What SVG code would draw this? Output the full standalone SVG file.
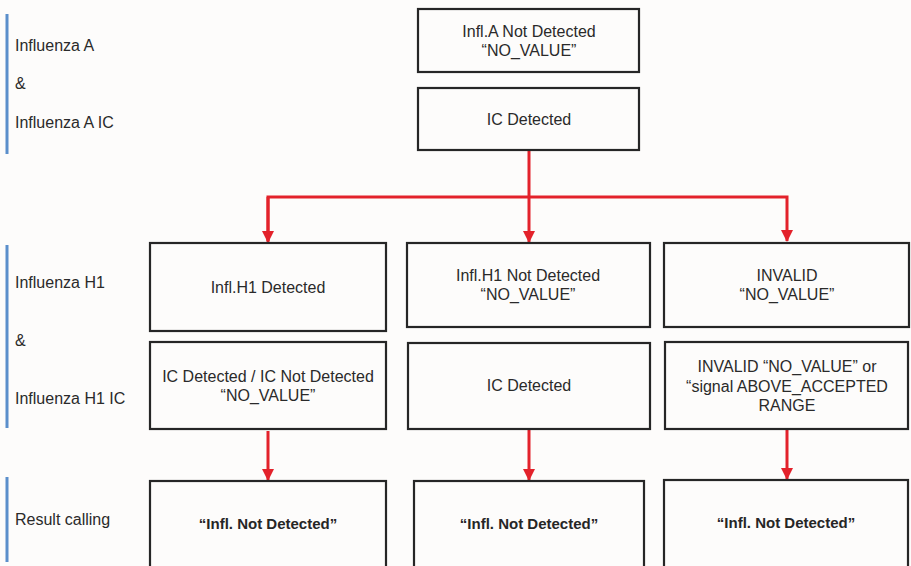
<svg xmlns="http://www.w3.org/2000/svg" width="911" height="566" viewBox="0 0 911 566">
  <style>
    .box { fill: #fdfcfb; stroke: #262626; stroke-width: 2.2; }
    .t { font-family: "Liberation Sans", Arial, sans-serif; font-size: 16px; fill: #2a2a2a; text-anchor: middle; }
    .tb { font-family: "Liberation Sans", Arial, sans-serif; font-size: 15px; font-weight: bold; fill: #262626; text-anchor: middle; }
    .lbl { font-family: "Liberation Sans", Arial, sans-serif; font-size: 16px; fill: #2a2a2a; }
    .bar { stroke: #5b8fcb; stroke-width: 3; }
    .wire { fill: none; stroke: #e3222b; stroke-width: 3; }
  </style>
  <defs>
    <marker id="arrow" viewBox="0 0 12 12" refX="11" refY="6" markerWidth="12" markerHeight="12" markerUnits="userSpaceOnUse" orient="auto">
      <path d="M0,0 L12,6 L0,12 Z" fill="#e3222b"/>
    </marker>
  </defs>

  <rect width="911" height="566" fill="#fdfcfb"/>

  <!-- Row labels -->
  <g id="labels">
    <line class="bar" x1="7" y1="14" x2="7" y2="154"/>
    <text class="lbl" x="15" y="51">Influenza A</text>
    <text class="lbl" x="15" y="89">&amp;</text>
    <text class="lbl" x="15" y="128">Influenza A IC</text>

    <line class="bar" x1="7" y1="245" x2="7" y2="428"/>
    <text class="lbl" x="15" y="288">Influenza H1</text>
    <text class="lbl" x="15" y="346">&amp;</text>
    <text class="lbl" x="15" y="404">Influenza H1 IC</text>

    <line class="bar" x1="7" y1="477" x2="7" y2="562"/>
    <text class="lbl" x="15" y="525">Result calling</text>
  </g>

  <!-- Connectors -->
  <g id="connectors">
    <line class="wire" x1="529" y1="151" x2="529" y2="242" marker-end="url(#arrow)"/>
    <polyline class="wire" points="268,241 268,197 787,197 787,241" marker-end="url(#arrow)"/>
    <line class="wire" x1="268" y1="197" x2="268" y2="242" marker-end="url(#arrow)"/>
    <line class="wire" x1="268" y1="431" x2="268" y2="480" marker-end="url(#arrow)"/>
    <line class="wire" x1="529" y1="430" x2="529" y2="480" marker-end="url(#arrow)"/>
    <line class="wire" x1="787" y1="430" x2="787" y2="479" marker-end="url(#arrow)"/>
  </g>

  <!-- Influenza A -->
  <g id="infa-not-detected">
    <rect class="box" x="418" y="9" width="221" height="63"/>
    <text class="t" x="529" y="37">Infl.A Not Detected</text>
    <text class="t" x="529" y="56">“NO_VALUE”</text>
  </g>
  <g id="infa-ic-detected">
    <rect class="box" x="418" y="88" width="221" height="62"/>
    <text class="t" x="529" y="125">IC Detected</text>
  </g>

  <!-- Influenza H1 -->
  <g id="h1-detected">
    <rect class="box" x="150" y="243" width="236" height="88"/>
    <text class="t" x="268" y="293">Infl.H1 Detected</text>
  </g>
  <g id="h1-not-detected">
    <rect class="box" x="407" y="243" width="243" height="84"/>
    <text class="t" x="528" y="281">Infl.H1 Not Detected</text>
    <text class="t" x="528" y="300">“NO_VALUE”</text>
  </g>
  <g id="h1-invalid">
    <rect class="box" x="664" y="243" width="245" height="84"/>
    <text class="t" x="787" y="281">INVALID</text>
    <text class="t" x="787" y="300">“NO_VALUE”</text>
  </g>

  <!-- Influenza H1 IC -->
  <g id="h1ic-any">
    <rect class="box" x="150" y="342" width="236" height="87"/>
    <text class="t" x="268" y="382">IC Detected / IC Not Detected</text>
    <text class="t" x="268" y="401">“NO_VALUE”</text>
  </g>
  <g id="h1ic-detected">
    <rect class="box" x="408" y="343" width="242" height="86"/>
    <text class="t" x="529" y="391">IC Detected</text>
  </g>
  <g id="h1ic-invalid">
    <rect class="box" x="665" y="342" width="243" height="87"/>
    <text class="t" x="787" y="372">INVALID “NO_VALUE” or</text>
    <text class="t" x="787" y="392">“signal ABOVE_ACCEPTED</text>
    <text class="t" x="787" y="411">RANGE</text>
  </g>

  <!-- Result calling -->
  <g id="result-1">
    <rect class="box" x="150" y="481" width="236" height="100"/>
    <text class="tb" x="268" y="529">“Infl. Not Detected”</text>
  </g>
  <g id="result-2">
    <rect class="box" x="414" y="481" width="230" height="100"/>
    <text class="tb" x="529" y="529">“Infl. Not Detected”</text>
  </g>
  <g id="result-3">
    <rect class="box" x="664" y="480" width="244" height="100"/>
    <text class="tb" x="786" y="528">“Infl. Not Detected”</text>
  </g>
</svg>
